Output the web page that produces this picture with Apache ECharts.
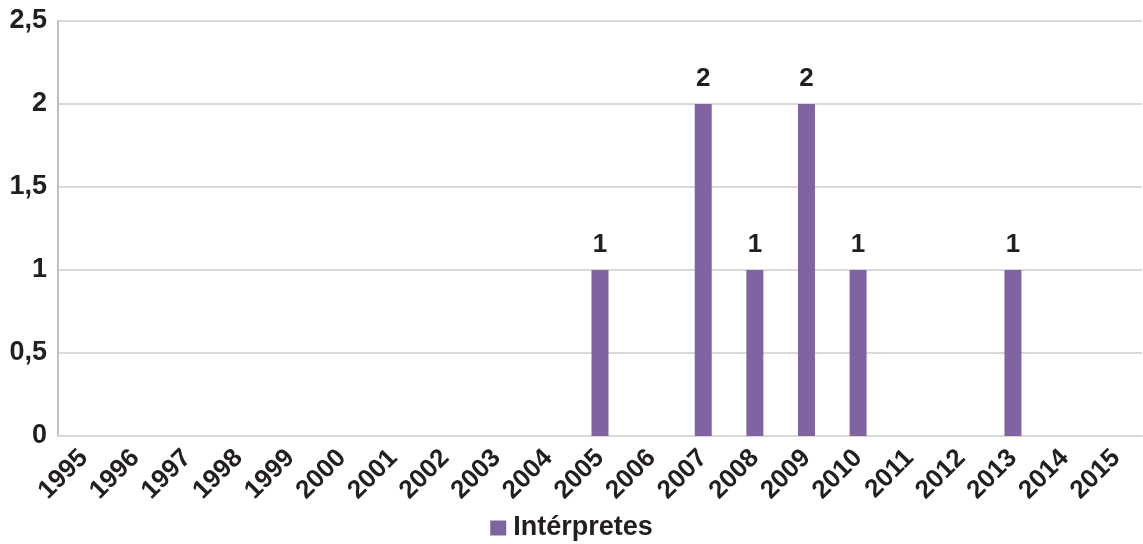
<!DOCTYPE html>
<html>
<head>
<meta charset="utf-8">
<script src="https://cdn.jsdelivr.net/npm/echarts@6/dist/echarts.min.js"></script>
<style>
  html, body { margin: 0; padding: 0; background: #fff; }
  #chart { width: 1143px; height: 544px; }
</style>
</head>
<body>
<div id="chart"></div>
<script>
// Years on the category axis
const years = ['1995','1996','1997','1998','1999','2000','2001','2002','2003','2004',
               '2005','2006','2007','2008','2009','2010','2011','2012','2013','2014','2015'];
// Number of interpreters per year
const interpretes = [0,0,0,0,0,0,0,0,0,0, 1,0,2,1,2,1,0,0,1,0,0];
const seriesName = 'Intérpretes';

const FONT = '"Liberation Sans", Arial, sans-serif';
const TEXT = '#231F20';

const chart = echarts.init(document.getElementById('chart'), null, { renderer: 'canvas' });
chart.setOption({
  animation: false,
  backgroundColor: '#ffffff',
  grid: { left: 58, right: 1, top: 21, bottom: 108, containLabel: false },
  legend: {
    top: 514,
    left: 'center',
    padding: 0,
    itemWidth: 16,
    itemHeight: 15,
    icon: 'rect',
    itemGap: 8,
    textStyle: { fontFamily: FONT, fontWeight: 'bold', fontSize: 27, lineHeight: 28, color: TEXT, padding: [0, 0, 0, 2] },
    data: [seriesName]
  },
  xAxis: {
    type: 'category',
    data: years,
    axisTick: { show: false },
    axisLine: { show: true, lineStyle: { color: '#D9D9D9', width: 2 } },
    axisLabel: {
      rotate: 45,
      interval: 0,
      margin: 18,
      fontFamily: FONT, fontWeight: 'bold', fontSize: 26, color: TEXT
    }
  },
  yAxis: {
    type: 'value',
    min: 0, max: 2.5, interval: 0.5,
    axisLine: { show: true, lineStyle: { color: '#BEBFC4', width: 2 } },
    axisTick: { show: false },
    splitLine: { lineStyle: { color: '#D9D9D9', width: 2 } },
    axisLabel: {
      margin: 11,
      fontFamily: FONT, fontWeight: 'bold', fontSize: 27, color: TEXT,
      formatter: v => String(v).replace('.', ',')
    }
  },
  series: [{
    name: seriesName,
    type: 'bar',
    data: interpretes,
    barWidth: 17,
    itemStyle: { color: '#8064A2' },
    label: {
      show: true,
      position: 'top',
      distance: 12,
      fontFamily: FONT, fontWeight: 'bold', fontSize: 26, color: TEXT,
      formatter: p => (p.value ? String(p.value) : '')
    }
  }]
});
</script>
</body>
</html>
